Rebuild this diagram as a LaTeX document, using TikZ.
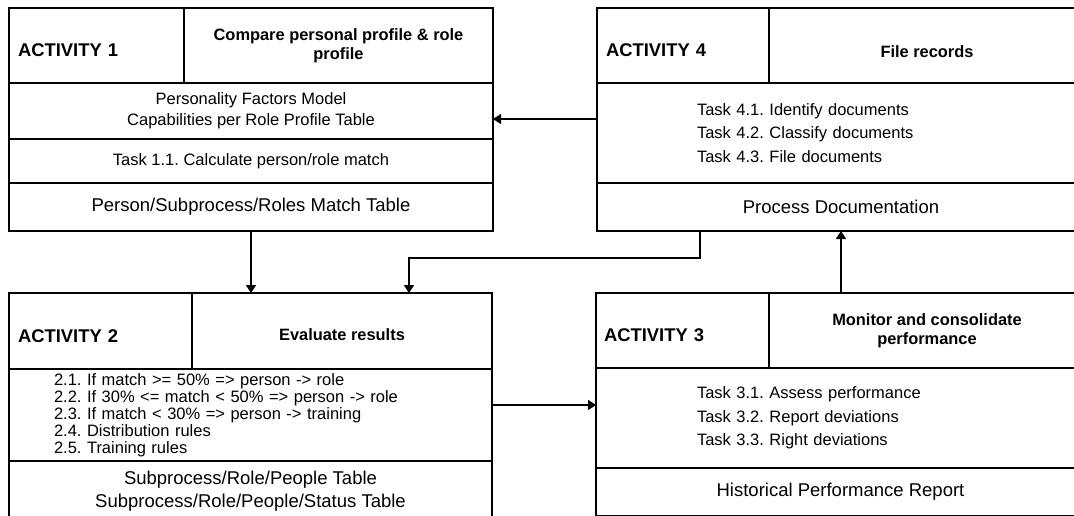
\documentclass[tikz,border=0pt]{standalone}
\usepackage{fontspec}
\setmainfont{Liberation Sans}
\frenchspacing
\usetikzlibrary{positioning,arrows.meta}
\begin{document}
\begin{tikzpicture}[
    x=1pt, y=-1pt,
    cell/.style={draw, line width=2pt, anchor=north west, inner sep=0pt, outer sep=0pt,
        align=center, font=\fontsize{16.5}{20}\selectfont},
    idcell/.style={cell, align=left, inner xsep=9pt, text height=22pt, text depth=0pt,
        font=\bfseries\fontsize{18.4}{22}\selectfont},
    namecell/.style={cell, font=\bfseries\fontsize{16.4}{19}\selectfont},
    taskcell/.style={cell, align=left, font=\fontsize{16.5}{23.5}\selectfont},
    outcell/.style={cell, font=\fontsize{18.5}{23}\selectfont},
    link/.style={line width=1.6pt, -{Triangle[length=8pt,width=10pt]}}
]
\useasboundingbox (0,0) rectangle (1074,515);

\node[idcell, minimum width=175pt, minimum height=75pt, text width=157pt] (a1id) at (9,8) {ACTIVITY 1};
\node[namecell, minimum width=309pt, minimum height=75pt, right=0pt of a1id] (a1name)
    {Compare personal profile \& role\\profile};
\node[cell, minimum width=484pt, minimum height=56pt, below=0pt of a1id.south west, anchor=north west] (a1in)
    {Personality Factors Model\\[1pt]Capabilities per Role Profile Table};
\node[cell, minimum width=484pt, minimum height=44pt, below=0pt of a1in.south west, anchor=north west] (a1task)
    {Task 1.1. Calculate person/role match};
\node[outcell, minimum width=484pt, minimum height=48pt, below=0pt of a1task.south west, anchor=north west] (a1out)
    {Person/Subprocess/Roles Match Table};

\node[idcell, minimum width=172pt, minimum height=75pt, text width=154pt] (a4id) at (597,8) {ACTIVITY 4};
\node[namecell, minimum width=316pt, minimum height=75pt, text height=24.8pt, text depth=0pt,
    right=0pt of a4id] (a4name) {File records};
\node[taskcell, minimum width=488pt, minimum height=100pt, inner xsep=100pt, text width=288pt,
    below=0pt of a4id.south west, anchor=north west] (a4tasks)
    {Task 4.1. Identify documents\\Task 4.2. Classify documents\\Task 4.3. File documents};
\node[outcell, minimum width=488pt, minimum height=48pt, below=0pt of a4tasks.south west, anchor=north west] (a4out)
    {Process Documentation};

\node[idcell, minimum width=183pt, minimum height=76pt, text width=165pt] (a2id) at (9,293) {ACTIVITY 2};
\node[namecell, minimum width=300pt, minimum height=76pt, text height=19pt, text depth=0pt,
    right=0pt of a2id] (a2name) {Evaluate results};
\node[cell, align=left, minimum width=483pt, minimum height=92pt, inner xsep=45pt, text width=393pt,
    font=\fontsize{16.5}{17}\selectfont, below=0pt of a2id.south west, anchor=north west] (a2rules)
    {2.1. If match >= 50\% => person -> role\\
     2.2. If 30\% <= match < 50\% => person -> role\\
     2.3. If match < 30\% => person -> training\\
     2.4. Distribution rules\\
     2.5. Training rules};
\node[outcell, minimum width=483pt, minimum height=60pt, below=0pt of a2rules.south west, anchor=north west] (a2out)
    {Subprocess/Role/People Table\\Subprocess/Role/People/Status Table};

\node[idcell, minimum width=173pt, minimum height=75pt, text width=157pt, inner xsep=8pt] (a3id) at (596,293) {ACTIVITY 3};
\node[namecell, minimum width=316pt, minimum height=75pt, right=0pt of a3id] (a3name)
    {Monitor and consolidate\\performance};
\node[taskcell, minimum width=489pt, minimum height=100pt, inner xsep=101pt, text width=287pt,
    below=0pt of a3id.south west, anchor=north west] (a3tasks)
    {Task 3.1. Assess performance\\Task 3.2. Report deviations\\Task 3.3. Right deviations};
\node[outcell, minimum width=489pt, minimum height=48pt, below=0pt of a3tasks.south west, anchor=north west] (a3out)
    {Historical Performance Report};

\draw[link] (a1out.south) -- (a1out.south |- a2name.north);
\draw[link] ([xshift=103pt]a4out.south west) -- ++(0,27) -| ([xshift=217pt]a2name.north west);
\draw[link] ([yshift=-36pt]a4tasks.north west) -- ([yshift=-36pt]a4tasks.north west -| a1in.east);
\draw[link] ([yshift=-36pt]a2rules.north east) -- ([yshift=-36pt]a2rules.north east -| a3tasks.west);
\draw[link] (a4out.south |- a3name.north) -- (a4out.south);
\end{tikzpicture}
\end{document}
